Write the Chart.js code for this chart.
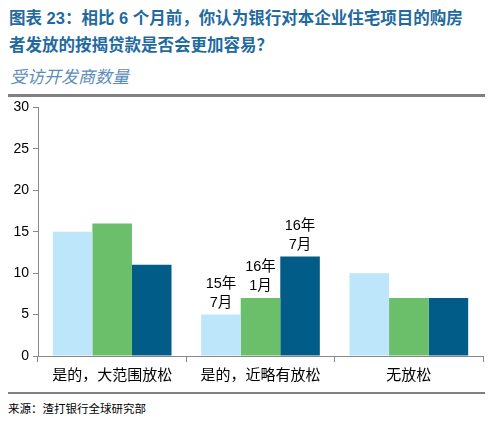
<!DOCTYPE html>
<html>
<head>
<meta charset="utf-8">
<script src="https://cdn.jsdelivr.net/npm/chart.js@4.4.0/dist/chart.umd.min.js"></script>
<style>
  body { margin: 0; background: #fff; width: 493px; height: 424px; position: relative; overflow: hidden;
         font-family: "Liberation Sans", "Noto Sans CJK SC", sans-serif; }
  .title { position: absolute; left: 9px; top: 5px; width: 484px; color: #1f6a9e; font-weight: bold;
           font-size: 16.5px; line-height: 27px; white-space: nowrap; }
  .sub { position: absolute; left: 10px; top: 63px; color: #5b8cb8; font-style: italic; font-size: 17px; }
  .rule { position: absolute; left: 8px; width: 477px; background: #808080; }
  .src { position: absolute; left: 8px; top: 400px; font-size: 11.5px; color: #000; }
  #wrap { position: absolute; left: 0; top: 95px; width: 493px; height: 297px; }
</style>
</head>
<body>
<div class="title">图表 23：相比 6 个月前，你认为银行对本企业住宅项目的购房<br>者发放的按揭贷款是否会更加容易？</div>
<div class="sub">受访开发商数量</div>
<div class="rule" style="top:94px;height:3px;"></div>
<div id="wrap"><canvas id="chart"></canvas></div>
<div class="rule" style="top:392px;height:2px;"></div>
<div class="src">来源：渣打银行全球研究部</div>
<script>
const categories = ['是的，大范围放松', '是的，近略有放松', '无放松'];
const seriesNames = ['15年7月', '16年1月', '16年7月'];
const jul15 = [15, 5, 10];
const jan16 = [16, 7, 7];
const jul16 = [11, 12, 7];
const yTicks = [0, 5, 10, 15, 20, 25, 30];
// étiquettes au-dessus du 2e groupe
const noteLines = [['15年', '7月'], ['16年', '1月'], ['16年', '7月']];
const noteCategory = 1;

const colors = ['#bde6fa', '#6bbe6a', '#025c88'];
const FONT = '"Liberation Sans", "Noto Sans CJK SC", sans-serif';

const notePlugin = {
  id: 'notes',
  afterDatasetsDraw(chart) {
    const ctx = chart.ctx;
    ctx.save();
    ctx.font = '14.5px ' + FONT;
    ctx.fillStyle = '#000';
    ctx.textAlign = 'center';
    ctx.textBaseline = 'middle';
    noteLines.forEach((lines, i) => {
      const bar = chart.getDatasetMeta(i).data[noteCategory];
      ctx.fillText(lines[0], bar.x, bar.y - 31);
      ctx.fillText(lines[1], bar.x, bar.y - 12);
    });
    ctx.restore();
  }
};

new Chart(document.getElementById('chart'), {
  type: 'bar',
  data: {
    labels: categories,
    datasets: [jul15, jan16, jul16].map((d, i) => ({
      label: seriesNames[i],
      data: d,
      backgroundColor: colors[i],
      borderWidth: 0,
      categoryPercentage: 0.8,
      barPercentage: 1.0
    }))
  },
  options: {
    responsive: true,
    maintainAspectRatio: false,
    animation: false,
    layout: { padding: { top: 9, right: 10, left: 0, bottom: 0 } },
    plugins: { legend: { display: false }, tooltip: { enabled: false } },
    scales: {
      x: {
        grid: { drawOnChartArea: false, drawTicks: true, tickLength: 6, color: '#888' },
        border: { color: '#888', width: 1 },
        ticks: { color: '#000', font: { size: 15, family: FONT }, padding: 5 },
        afterFit: s => { s.height = 36; }
      },
      y: {
        min: 0, max: 30,
        afterBuildTicks: s => { s.ticks = yTicks.map(v => ({ value: v })); },
        grid: { drawOnChartArea: false, drawTicks: true, tickLength: 5, color: '#888' },
        border: { color: '#888', width: 1 },
        ticks: { color: '#000', font: { size: 14, family: FONT }, padding: 4 },
        afterFit: s => { s.width = 38; }
      }
    }
  },
  plugins: [notePlugin]
});
</script>
</body>
</html>
